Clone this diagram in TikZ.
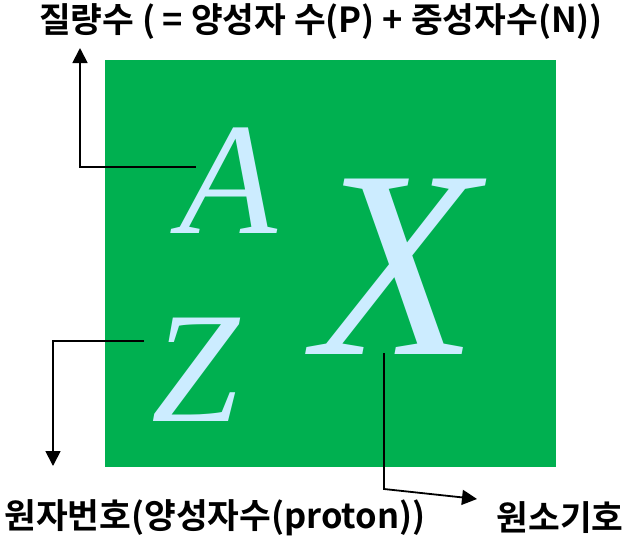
\documentclass[tikz,border=0pt]{standalone}
\usepackage{fontspec}
\usetikzlibrary{arrows.meta,positioning}
\newfontfamily\krfont{Noto Sans CJK KR Bold}
\newfontfamily\letterfont{Liberation Serif}
\definecolor{boxgreen}{RGB}{0,176,80}
\definecolor{letterblue}{RGB}{204,236,255}
\newcommand{\lblfont}{\fontsize{34.5}{40}\selectfont}
\tikzset{
  nuclide/.style={x=1pt, y=-1pt},
  % the green square behind the symbol
  symbox/.style={fill=boxgreen, draw=none},
  % the italic letters A, Z and X
  symletter/.style={text=letterblue, inner sep=0pt, anchor=base},
  % a label that one of the arrows points at
  plabel/.style={font=\krfont\lblfont, inner sep=0pt},
  % an elbow connector ending in an arrow
  pointer/.style={draw=black, line width=1.8pt,
                  -{Triangle[length=15pt,width=15pt]}},
}

\begin{document}
\begin{tikzpicture}[nuclide]
  \useasboundingbox (0,0) rectangle (636,535);
  \fill[symbox] (105,60) rectangle (556,467);

  \node[symletter, font=\letterfont\itshape\fontsize{160}{160}\selectfont]
    (mass) at (228,233) {A};
  \node[symletter, font=\letterfont\itshape\fontsize{158}{158}\selectfont]
    (atomic) at (195,421) {Z};
  \node[symletter, font=\letterfont\itshape\fontsize{268}{268}\selectfont]
    (element) at (396,354) {X};

  \node[plabel] (masslbl) at (321,22) {질량수 ( = 양성자 수(P) + 중성자수(N))};
  \node[plabel] (atomiclbl) at (215,518) {원자번호(양성자수(proton))};
  \node[plabel] (elementlbl) at (560,518) {원소기호};

  % where each pointer starts and ends
  \coordinate (massfrom) at (196,167);
  \coordinate (massto) at (80,48);
  \coordinate (atomicfrom) at (144,341);
  \coordinate (atomicto) at (53,466);
  \coordinate (elementfrom) at (384,353);
  \coordinate (elementbend) at (384,489);
  \coordinate (elementto) at (477,499);

  \draw[pointer] (massfrom) -| (massto);
  \draw[pointer] (atomicfrom) -| (atomicto);
  \draw[pointer] (elementfrom) -- (elementbend) -- (elementto);
\end{tikzpicture}
\end{document}
